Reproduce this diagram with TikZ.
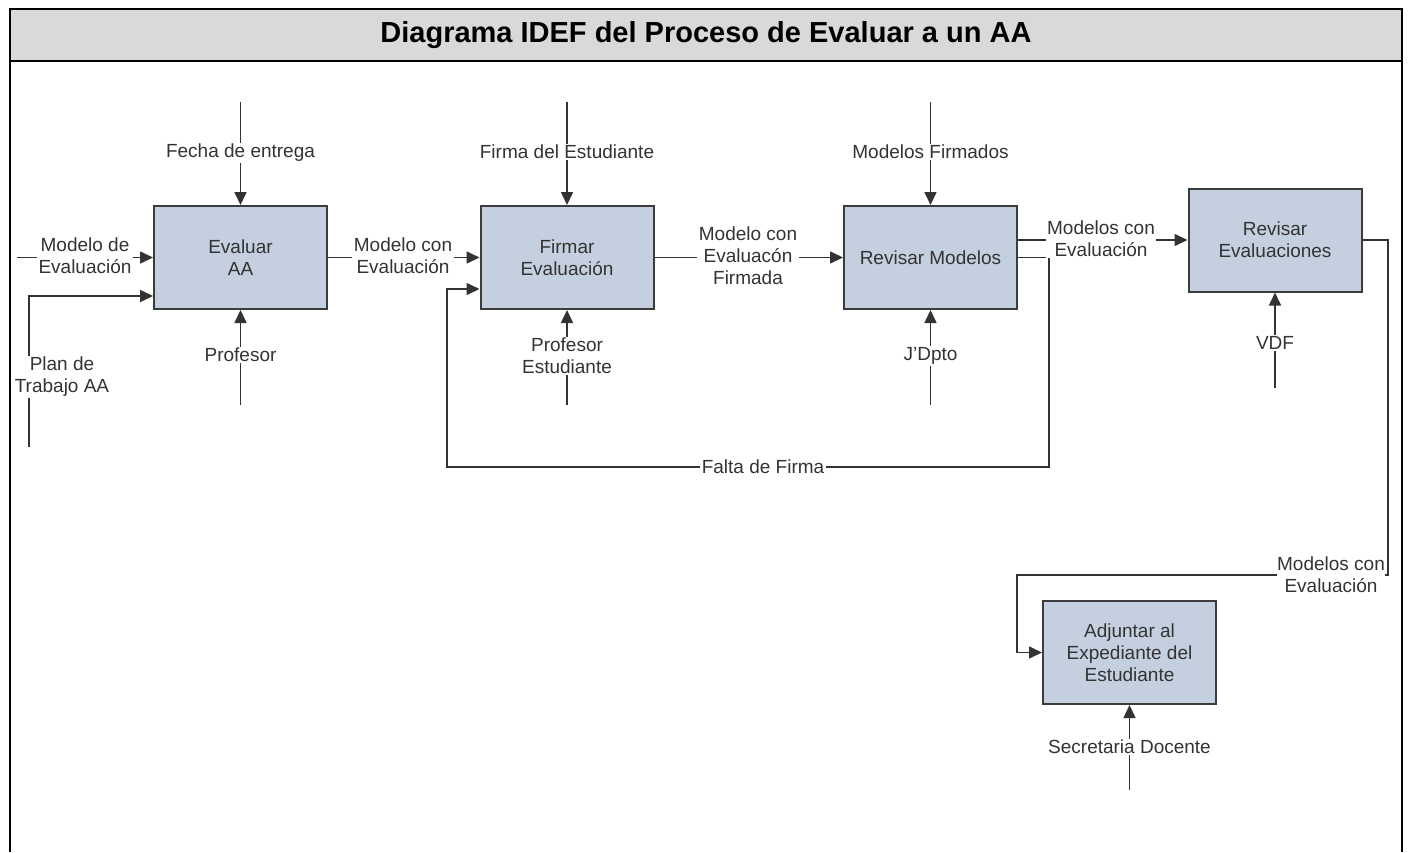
\documentclass[tikz,border=0pt]{standalone}
\usepackage{fontspec}
\setmainfont{Liberation Sans}
\usetikzlibrary{arrows.meta}
\definecolor{boxfill}{RGB}{196,208,224}
\definecolor{boxline}{RGB}{60,60,60}
\definecolor{ink}{RGB}{51,51,51}
\definecolor{titlebg}{RGB}{217,217,217}

\begin{document}
\begin{tikzpicture}[x=1pt,y=-1pt,
  proc/.style={draw=boxline, line width=2pt, fill=boxfill, minimum width=173pt,
    minimum height=103pt, align=center, text=ink,
    font=\fontsize{19}{22}\selectfont, inner sep=0pt},
  lbl/.style={fill=white, align=center, text=ink,
    font=\fontsize{19}{22}\selectfont, inner sep=1.5pt},
  flow/.style={draw=ink, line width=1.6pt, -{Triangle[length=13pt,width=12pt]}},
  plain/.style={draw=ink, line width=1.6pt}
]
\useasboundingbox (0,0) rectangle (1409,852);

% frame and title band
\fill[titlebg] (10,9) rectangle (1402,61);
\draw[line width=2.2pt, line join=miter] (10,852) -- (10,9) -- (1402,9) -- (1402,852);
\draw[line width=2.2pt] (10,61) -- (1402,61);
\node[font=\bfseries\fontsize{29}{34}\selectfont] (title) at (706,35)
  {Diagrama IDEF del Proceso de Evaluar a un AA};

% activities
\node[proc] (evaluar)  at (240.5,257.5) {Evaluar\\AA};
\node[proc] (firmar)   at (567,257.5)   {Firmar\\Evaluación};
\node[proc] (revisarM) at (930.5,257.5) {Revisar Modelos};
\node[proc] (revisarE) at (1275,240)    {Revisar\\Evaluaciones};
\node[proc] (adjuntar) at (1129.5,652.5) {Adjuntar al\\Expediante del\\Estudiante};

% free ends of the arrows
\coordinate (fechaIn)   at (240.5,102);
\coordinate (profIn)    at (240.5,405);
\coordinate (modeloIn)  at (17,257.5);
\coordinate (planIn)    at (29,447);
\coordinate (firmaIn)   at (567,102);
\coordinate (profEstIn) at (567,405);
\coordinate (firmadosIn) at (930.5,102);
\coordinate (jdptoIn)   at (930.5,405);
\coordinate (vdfIn)     at (1275,388);
\coordinate (secIn)     at (1129.5,790);
\coordinate (faltaR)    at (1049,467);
\coordinate (faltaL)    at (447,467);
\coordinate (salidaR)   at (1388,575);
\coordinate (salidaL)   at (1017,575);

% connectors
\draw[flow] (fechaIn) -- (evaluar.north);
\draw[flow] (profIn) -- (evaluar.south);
\draw[flow] (modeloIn) -- (evaluar.west);
\draw[flow] (planIn) |- ([yshift=-38.5pt]evaluar.west);
\draw[flow] (evaluar.east) -- (firmar.west);

\draw[flow] (firmaIn) -- (firmar.north);
\draw[flow] (profEstIn) -- (firmar.south);
\draw[flow] (firmar.east) -- (revisarM.west);

\draw[flow] (firmadosIn) -- (revisarM.north);
\draw[flow] (jdptoIn) -- (revisarM.south);
\draw[flow] ([yshift=17.5pt]revisarM.east) -- (revisarE.west);
\draw[flow] (revisarM.east) -| (faltaR) -- (faltaL) |- ([yshift=-31.5pt]firmar.west);

\draw[flow] (vdfIn) -- (revisarE.south);
\draw[flow] (revisarE.east) -| (salidaR) -- (salidaL) |- (adjuntar.west);

\draw[flow] (secIn) -- (adjuntar.south);

% labels on the connectors
\node[lbl] (lFecha)   at (240.5,153) {Fecha de entrega};
\node[lbl] (lProf)    at (240.5,355) {Profesor};
\node[lbl] (lModelo)  at (85,256)    {Modelo de\\Evaluación};
\node[lbl] (lPlan)    at (62,377)    {Plan de\\Trabajo AA};
\node[lbl] (lConEv)   at (403,256)   {Modelo con\\Evaluación};
\node[lbl] (lFirma)   at (567,152)   {Firma del Estudiante};
\node[lbl] (lProfEst) at (567,356)   {Profesor\\Estudiante};
\node[lbl] (lFirmada) at (748,256)   {Modelo con\\Evaluacón\\Firmada};
\node[lbl] (lFirmados) at (930.5,152) {Modelos Firmados};
\node[lbl] (lJdpto)   at (930.5,356) {J'Dpto};
\node[lbl] (lConEv2)  at (1101,239)  {Modelos con\\Evaluación};
\node[lbl] (lFalta)   at (763,467)   {Falta de Firma};
\node[lbl] (lVdf)     at (1275,343)  {VDF};
\node[lbl, inner sep=0.5pt] (lConEv3) at (1331,575) {Modelos con\\Evaluación};
\node[lbl] (lSec)     at (1129.5,747) {Secretaria Docente};
\end{tikzpicture}
\end{document}
